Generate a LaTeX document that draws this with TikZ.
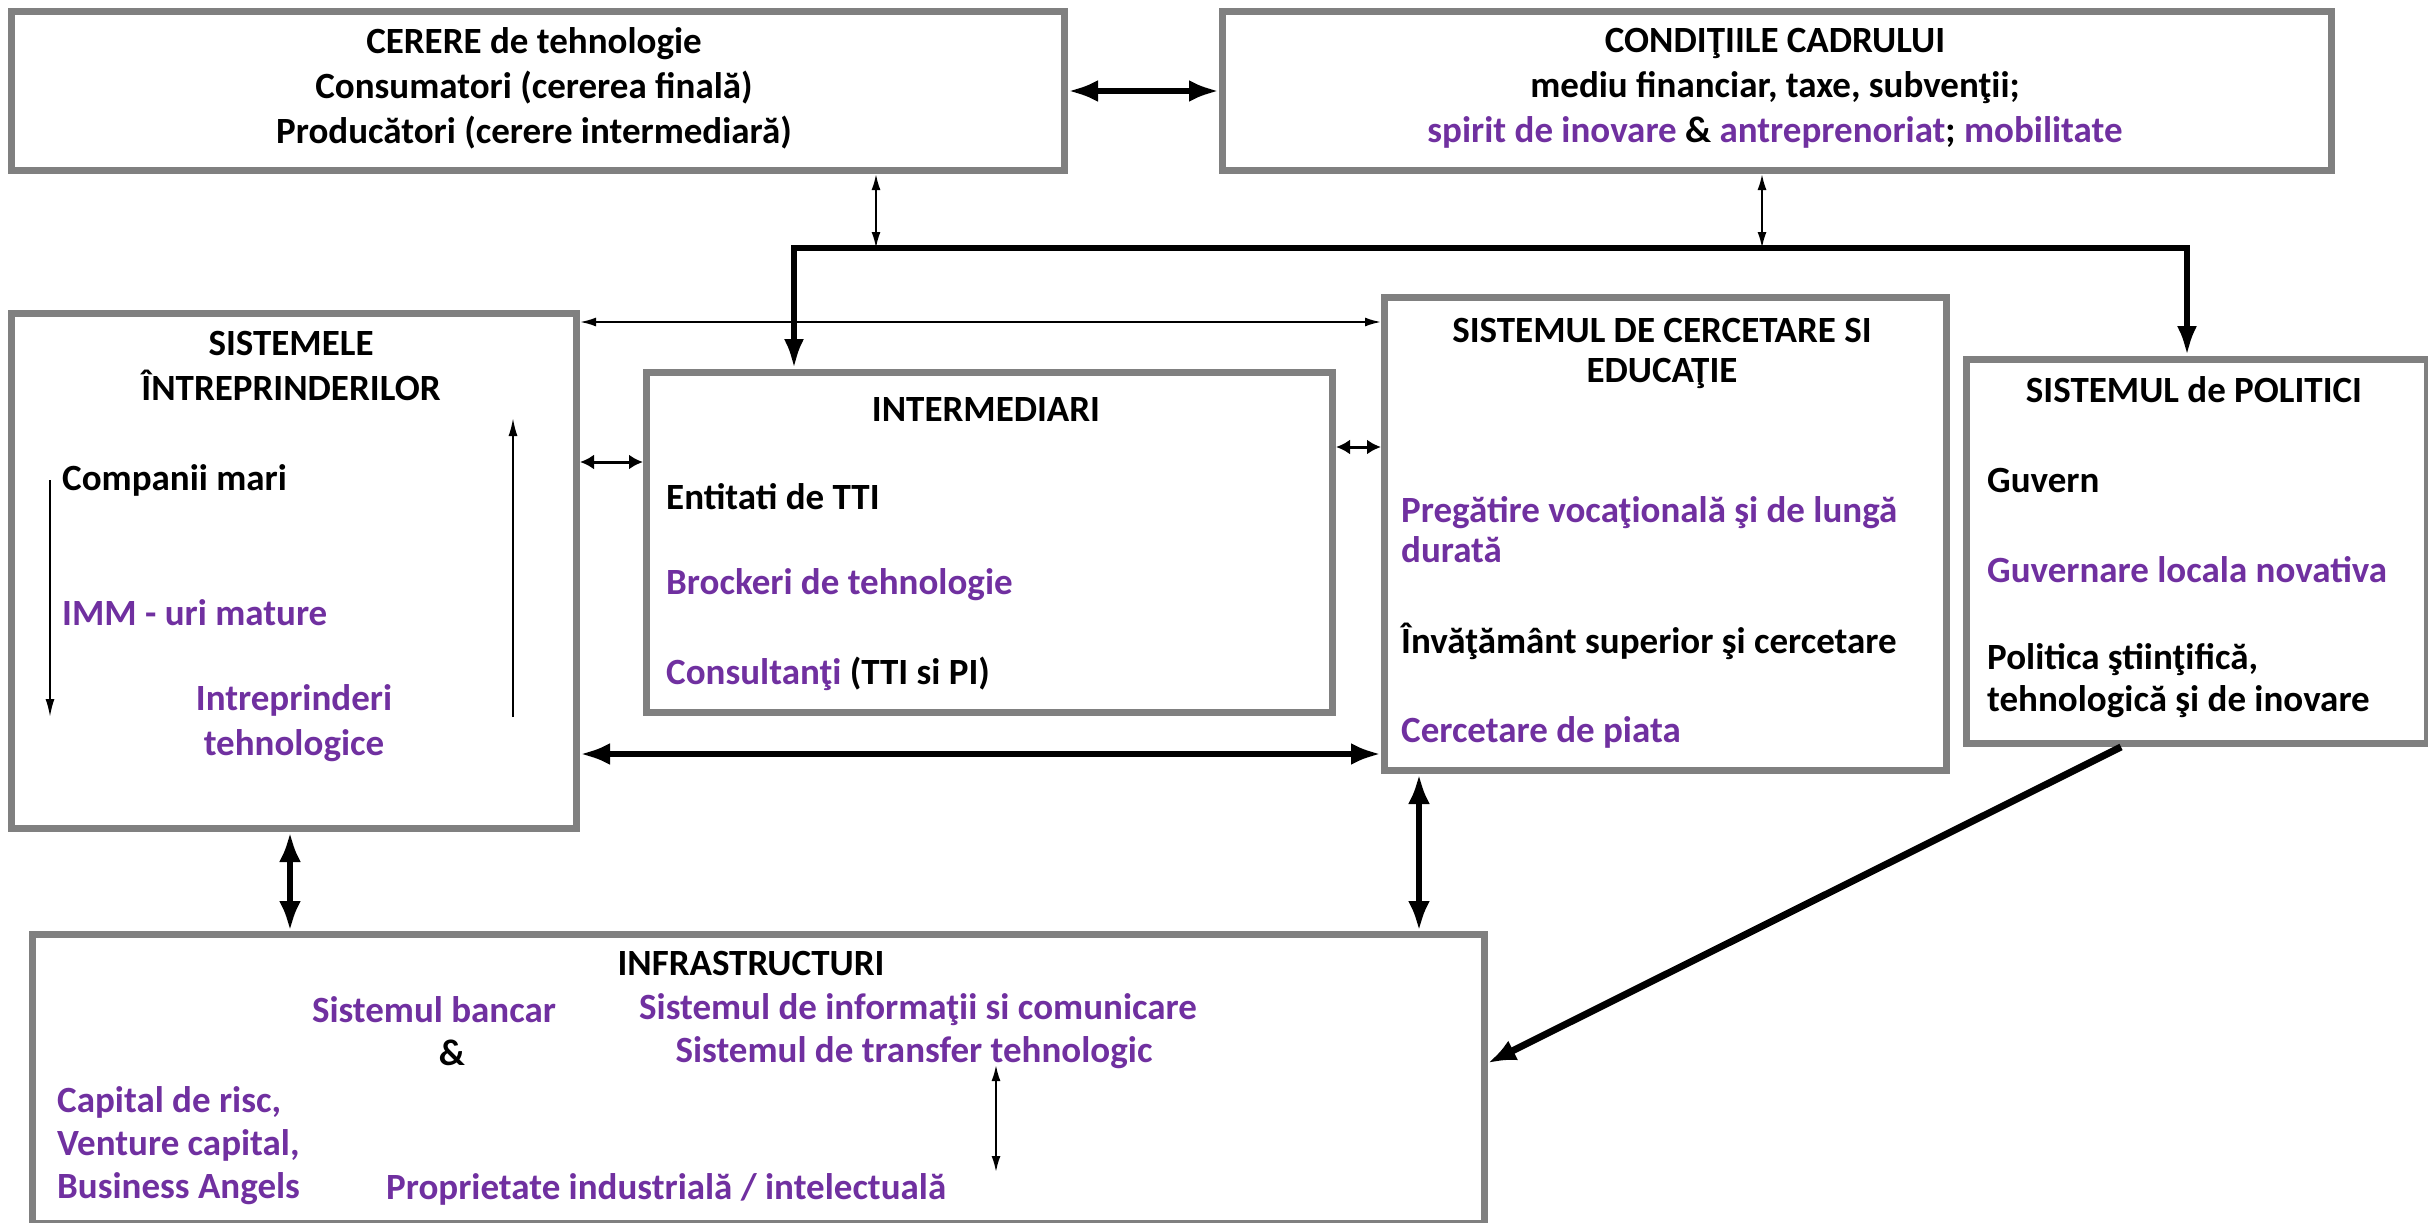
\documentclass[tikz,border=0pt]{standalone}
\usepackage{fontspec}
\setmainfont{Carlito}
\usetikzlibrary{arrows.meta}
\definecolor{purp}{HTML}{7030A0}
\definecolor{boxgray}{HTML}{808080}
\begin{document}
\begin{tikzpicture}[x=1pt,y=-1pt,
 box/.style={draw=boxgray, line width=7pt, rectangle, inner sep=0pt, anchor=north west},
 txt/.style={inner sep=0pt, font=\fontsize{37}{42}\selectfont\bfseries},
 ptxt/.style={txt, text=purp},
 bigarrow/.style={line width=6pt, {Latex[length=30pt,width=22pt]}-{Latex[length=30pt,width=22pt]}},
 busline/.style={line width=6pt, {Latex[length=30pt,width=20pt]}-{Latex[length=30pt,width=20pt]}},
 onearrow/.style={line width=7pt, -{Latex[length=28pt,width=22pt]}},
 smallarrow/.style={line width=2pt, {Latex[length=16pt,width=9pt]}-{Latex[length=16pt,width=9pt]}},
 stubarrow/.style={line width=3pt, {Latex[length=14pt,width=15pt]}-{Latex[length=14pt,width=15pt]}},
 flowarrow/.style={line width=2pt, -{Latex[length=18pt,width=9pt]}}
]
\useasboundingbox[fill=white] (0,0) rectangle (2428,1223);

% boxes
\node[box, minimum width=1053pt, minimum height=159pt] (cerere) at (8,8) {};
\node[box, minimum width=1109pt, minimum height=159pt] (cond) at (1219,8) {};
\node[box, minimum width=565pt, minimum height=515pt] (sist) at (8,310) {};
\node[box, minimum width=686pt, minimum height=340pt] (inter) at (643,369) {};
\node[box, minimum width=562pt, minimum height=473pt] (cerc) at (1381,294) {};
\node[box, minimum width=461pt, minimum height=384pt] (polit) at (1963,356) {};
\node[box, minimum width=1452pt, minimum height=289pt] (infra) at (29,931) {};

% texts: CERERE
\node[txt, align=center, font=\fontsize{37}{45}\selectfont\bfseries] (cerT) at (534,88)
 {CERERE de tehnologie\\Consumatori (cererea finală)\\Producători (cerere intermediară)};
% CONDITII
\node[txt, align=center, font=\fontsize{37}{45}\selectfont\bfseries] (condT) at (1775,88)
 {CONDIŢIILE CADRULUI\\mediu financiar, taxe, subvenţii;\\\textcolor{purp}{spirit de inovare} \& \textcolor{purp}{antreprenoriat}; \textcolor{purp}{mobilitate}};
% SISTEMELE
\node[txt, align=center, font=\fontsize{37}{45}\selectfont\bfseries] (sistT) at (291,366) {SISTEMELE\\ÎNTREPRINDERILOR};
\node[txt, anchor=west] (sist1) at (62,480) {Companii mari};
\node[ptxt, anchor=west] (sist2) at (62,613) {IMM - uri mature};
\node[ptxt, align=center, font=\fontsize{37}{45}\selectfont\bfseries] (sist3) at (294,723) {Intreprinderi\\tehnologice};
% INTERMEDIARI
\node[txt] (interT) at (986,409) {INTERMEDIARI};
\node[txt, anchor=west] (inter1) at (666,497) {Entitati de TTI};
\node[ptxt, anchor=west] (inter2) at (666,585) {Brockeri de tehnologie};
\node[txt, anchor=west] (inter3) at (666,674) {\textcolor{purp}{Consultanţi} (TTI si PI)};
% CERCETARE
\node[txt, align=center, font=\fontsize{37}{40}\selectfont\bfseries] (cercT) at (1662,353) {SISTEMUL DE CERCETARE SI\\EDUCAŢIE};
\node[ptxt, anchor=west, align=left, font=\fontsize{37}{40}\selectfont\bfseries] (cerc1) at (1401,530) {Pregătire vocaţională şi de lungă\\durată};
\node[txt, anchor=west] (cerc2) at (1401,641) {Învăţământ superior şi cercetare};
\node[ptxt, anchor=west] (cerc3) at (1401,732) {Cercetare de piata};
% POLITICI
\node[txt] (politT) at (2194,390) {SISTEMUL de POLITICI};
\node[txt, anchor=west] (polit1) at (1987,480) {Guvern};
\node[ptxt, anchor=west] (polit2) at (1987,570) {Guvernare locala novativa};
\node[txt, anchor=west, align=left] (polit3) at (1987,681) {Politica ştiinţifică,\\tehnologică şi de inovare};
% INFRASTRUCTURI
\node[txt] (infraT) at (751,963) {INFRASTRUCTURI};
\node[ptxt] (inf1) at (434,1010) {Sistemul bancar};
\node[txt] (inf2) at (452,1053) {\&};
\node[ptxt] (inf3) at (918,1010) {Sistemul de informaţii si comunicare};
\node[ptxt] (inf4) at (914,1053) {Sistemul de transfer tehnologic};
\node[ptxt, anchor=west, align=left, font=\fontsize{37}{43}\selectfont\bfseries] (inf5) at (57,1146) {Capital de risc,\\Venture capital,\\Business Angels};
\node[ptxt, anchor=west] (inf6) at (386,1189) {Proprietate industrială / intelectuală};

% helper coordinates
\coordinate (busL) at (794,248);
\coordinate (busR) at (2187,248);
\coordinate (tapA) at (876,248);
\coordinate (tapB) at (1762,248);
\coordinate (yTop) at (0,322);
\coordinate (yInt) at (0,462);
\coordinate (yCerc) at (0,447);
\coordinate (yThick) at (0,754);
\coordinate (xSist) at (290,0);
\coordinate (xCerc) at (1419,0);
\coordinate (xPol) at (2121,0);
\coordinate (yDiag) at (0,1063);
\coordinate (dnTop) at (50,480);
\coordinate (dnBot) at (50,717);
\coordinate (upBot) at (513,717);
\coordinate (upTop) at (513,418);
\coordinate (ipTop) at (996,1065);
\coordinate (ipBot) at (996,1172);

% connectors
\draw[bigarrow] (cerere.east) -- (cond.west);
\draw[smallarrow] (cerere.south -| tapA) -- (tapA);
\draw[smallarrow] (cond.south -| tapB) -- (tapB);
\draw[busline] (inter.north -| busL) -- (busL) -- (busR) -- (polit.north -| busR);
\draw[smallarrow] (sist.east |- yTop) -- (cerc.west |- yTop);
\draw[stubarrow] (sist.east |- yInt) -- (inter.west |- yInt);
\draw[stubarrow] (inter.east |- yCerc) -- (cerc.west |- yCerc);
\draw[bigarrow] (sist.east |- yThick) -- (cerc.west |- yThick);
\draw[bigarrow] (sist.south -| xSist) -- (infra.north -| xSist);
\draw[bigarrow] (cerc.south -| xCerc) -- (infra.north -| xCerc);
\draw[onearrow] (polit.south -| xPol) -- (infra.east |- yDiag);
\draw[flowarrow] (dnTop) -- (dnBot);
\draw[flowarrow] (upBot) -- (upTop);
\draw[smallarrow] (ipTop) -- (ipBot);
\end{tikzpicture}
\end{document}
